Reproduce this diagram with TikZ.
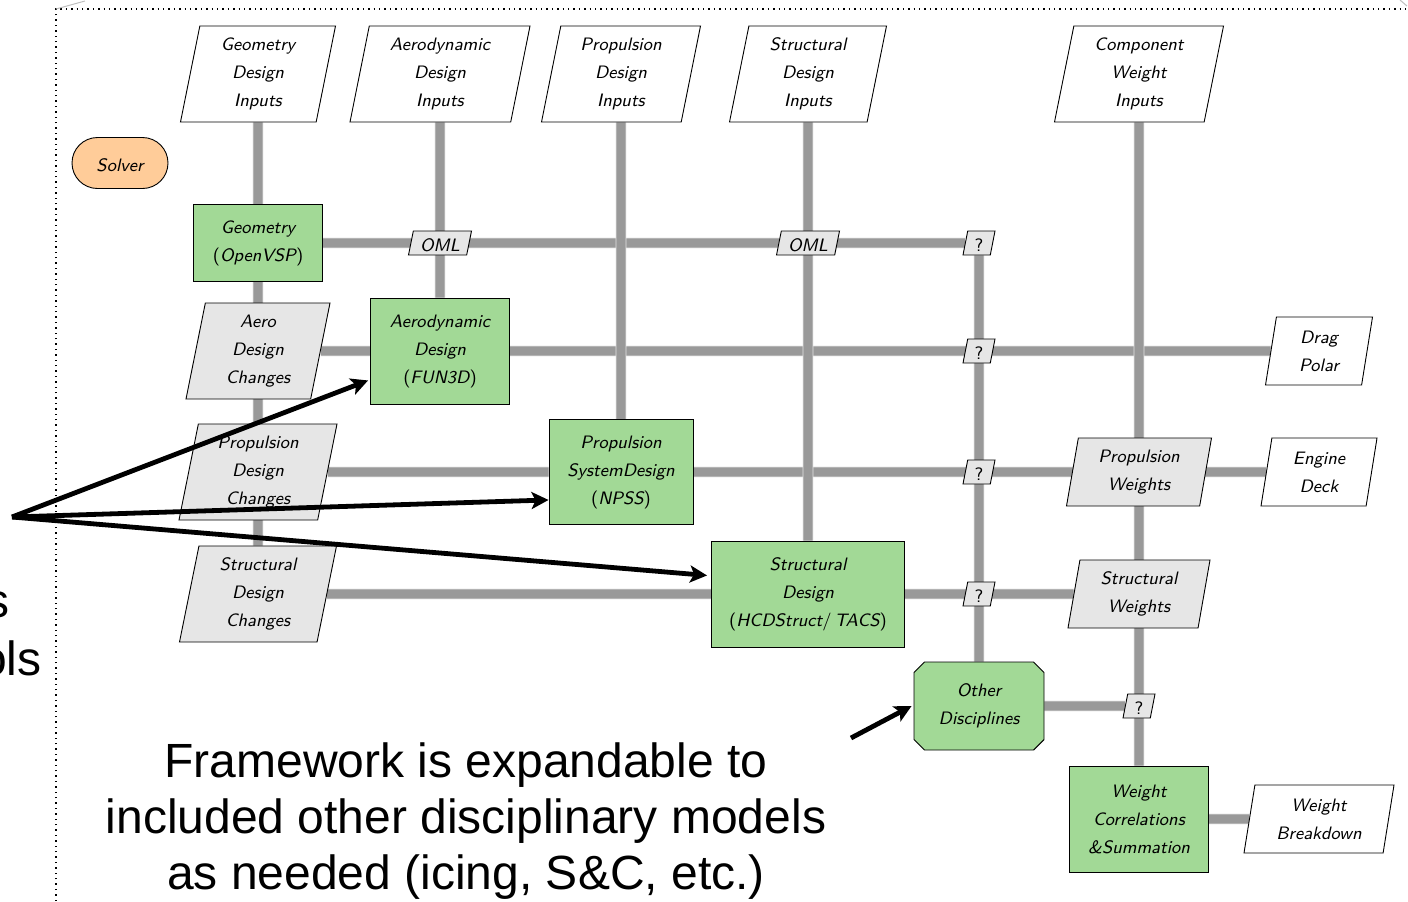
\documentclass[tikz,border=0pt]{standalone}
\usepackage{fontspec}
\newfontfamily\arialfont{Liberation Sans}
\usetikzlibrary{shapes.geometric,shapes.misc,arrows.meta,backgrounds}
\definecolor{fungreen}{RGB}{162,217,150}
\definecolor{solverorange}{RGB}{255,204,153}
\definecolor{datagray}{RGB}{230,230,230}
\definecolor{linegray}{RGB}{153,153,153}
\begin{document}
\begin{tikzpicture}[x=0.5pt,y=-0.5pt,
  lbl/.style={font=\sffamily\itshape\fontsize{9}{14}\selectfont, align=center, inner sep=0pt, line width=0.45pt, execute at begin node={\rule{0pt}{8.8pt}}},
  func/.style={lbl, rectangle, draw=black, fill=fungreen},
  datap/.style={lbl, draw=black, trapezium, trapezium left angle=75, trapezium right angle=105, trapezium stretches body},
  indata/.style={datap, fill=white},
  chdata/.style={datap, fill=datagray},
  tag/.style={datap, fill=datagray, minimum height=12pt},
  solverbox/.style={lbl, rounded rectangle, draw=black, fill=solverorange},
  otherbox/.style={lbl, chamfered rectangle, chamfered rectangle xsep=2.6pt, chamfered rectangle ysep=2.6pt, draw=black, fill=fungreen},
  conn/.style={draw=white!90!black, line width=0.35pt, double=linegray, double distance=4.6pt},
  bigarrow/.style={line width=2.4pt, -{Stealth[length=8.5pt,width=8.5pt,inset=2pt]}},
  bigtext/.style={font=\arialfont\fontsize{24}{28}\selectfont, align=center, inner sep=0pt}
]
\useasboundingbox (0,0) rectangle (1408,901);

% frame
\draw[dotted, line width=0.7pt] (56,901) -- (56,9) -- (1408,9);
\draw[black!25, line width=0.5pt] (56,9) -- (85,1);
\draw[black!25, line width=0.5pt] (1400,0) -- (1407,6);

% input row
\node[indata, minimum width=77.5pt, minimum height=48pt] (gdi) at (258,74) {Geometry\\Design\\Inputs};
\node[indata, minimum width=90pt, minimum height=48pt] (adi) at (440,74) {Aerodynamic\\Design\\Inputs};
\node[indata, minimum width=79.5pt, minimum height=48pt] (pdi) at (621,74) {Propulsion\\Design\\Inputs};
\node[indata, minimum width=78.5pt, minimum height=48pt] (sdi) at (808,74) {Structural\\Design\\Inputs};
\node[indata, minimum width=84.5pt, minimum height=48pt] (cwi) at (1139,74) {Component\\Weight\\Inputs};

\node[solverbox, minimum width=48pt, minimum height=25.5pt] (solver) at (120,163) {Solver};

% geometry row
\node[func, minimum width=64.5pt, minimum height=38.5pt] (geo) at (258,243) {Geometry\\{\upshape(}OpenVSP{\upshape)}};
\node[tag, minimum width=31.5pt] (oml1) at (440,243) {OML};
\node[tag, minimum width=31.5pt] (oml2) at (808,243) {OML};
\node[tag, minimum width=16pt] (q1) at (979,243) {\upshape ?};

% aero row
\node[chdata, minimum width=72pt, minimum height=48pt] (adc) at (258,351) {Aero\\Design\\Changes};
\node[func, minimum width=69.5pt, minimum height=53pt] (aero) at (440,351) {Aerodynamic\\Design\\{\upshape(}FUN3D{\upshape)}};
\node[tag, minimum width=16pt] (q2) at (979,351) {\upshape ?};
\node[indata, minimum width=53.5pt, minimum height=34pt] (drag) at (1319,351) {Drag\\Polar};

% propulsion row
\node[chdata, minimum width=79pt, minimum height=48pt] (pdc) at (258,472) {Propulsion\\Design\\Changes};
\node[func, minimum width=72pt, minimum height=52.5pt] (prop) at (621,472) {Propulsion\\SystemDesign\\{\upshape(}NPSS{\upshape)}};
\node[tag, minimum width=16pt] (q3) at (979,472) {\upshape ?};
\node[chdata, minimum width=72.5pt, minimum height=34pt] (pw) at (1139,472) {Propulsion\\Weights};
\node[indata, minimum width=58pt, minimum height=34pt] (eng) at (1319,472) {Engine\\Deck};

% structures row
\node[chdata, minimum width=78.5pt, minimum height=48pt] (sdc) at (258,594) {Structural\\Design\\Changes};
\node[func, minimum width=96.5pt, minimum height=53pt] (struct) at (808,594) {Structural\\Design\\{\upshape(}HCDStruct{\upshape/}\,TACS{\upshape)}};
\node[tag, minimum width=16pt] (q4) at (979,594) {\upshape ?};
\node[chdata, minimum width=71pt, minimum height=34pt] (sw) at (1139,594) {Structural\\Weights};

% other row
\node[otherbox, minimum width=65pt, minimum height=44pt] (other) at (979,706) {Other\\Disciplines};
\node[tag, minimum width=16pt] (q5) at (1139,706) {\upshape ?};

% weight row
\node[func, minimum width=69.5pt, minimum height=53pt] (wt) at (1139,819) {Weight\\Correlations\\\&Summation};
\node[indata, minimum width=75pt, minimum height=34pt] (wb) at (1319,819) {Weight\\Breakdown};

% connectors
\begin{scope}[on background layer]
  \draw[conn] (geo) -- (q1);
  \draw[conn] (adc) -- (aero);
  \draw[conn] (aero) -- (drag);
  \draw[conn] (pdc) -- (prop);
  \draw[conn] (prop) -- (eng);
  \draw[conn] (sdc) -- (struct);
  \draw[conn] (struct) -- (sw);
  \draw[conn] (other) -- (q5);
  \draw[conn] (wt) -- (wb);
  \draw[conn] (gdi) -- (geo);
  \draw[conn] (geo) -- (sdc);
  \draw[conn] (adi) -- (aero);
  \draw[conn] (pdi) -- (prop);
  \draw[conn] (sdi) -- (struct);
  \draw[conn] (q1) -- (other);
  \draw[conn] (cwi) -- (wt);
\end{scope}

% annotations
\coordinate (src) at (12,517);
\draw[bigarrow] (src) -- ([shift={(-2,-24)}]aero.south west);
\draw[bigarrow] (src) -- ([shift={(0,-25)}]prop.south west);
\draw[bigarrow] (src) -- ([shift={(-4,-72)}]struct.south west);
\coordinate (src2) at (851,738);
\draw[bigarrow] (src2) -- ([xshift=-1pt]other.west);

\node[bigtext, anchor=north] (fw) at (466,742) {Framework is expandable to\\included other disciplinary models\\as needed (icing, S\&C, etc.)};
\node[bigtext, anchor=base east] (cut1) at (10,617) {s};
\node[bigtext, anchor=base east] (cut2) at (42,675) {ols};
\end{tikzpicture}
\end{document}
